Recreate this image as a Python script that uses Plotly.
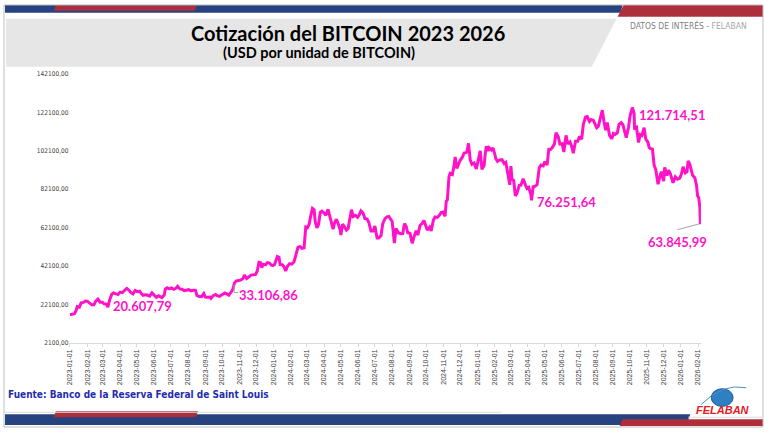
import plotly.graph_objects as go

# Bitcoin price (USD)
dates_2023 = [
    "2023-01-01", "2023-01-05", "2023-01-09", "2023-01-12", "2023-01-14", "2023-01-18", "2023-01-21",
    "2023-01-25", "2023-01-29", "2023-02-01", "2023-02-05", "2023-02-09", "2023-02-13", "2023-02-16",
    "2023-02-20", "2023-02-24", "2023-02-28", "2023-03-03", "2023-03-07", "2023-03-10", "2023-03-13",
    "2023-03-17", "2023-03-20", "2023-03-24", "2023-03-28", "2023-04-01", "2023-04-05", "2023-04-10",
    "2023-04-13", "2023-04-17", "2023-04-20", "2023-04-24", "2023-04-28", "2023-05-02", "2023-05-06",
    "2023-05-09", "2023-05-12", "2023-05-16", "2023-05-20", "2023-05-24", "2023-05-28", "2023-06-01",
    "2023-06-05", "2023-06-09", "2023-06-12", "2023-06-15", "2023-06-19", "2023-06-21", "2023-06-24",
    "2023-06-28", "2023-07-02", "2023-07-06", "2023-07-10", "2023-07-13", "2023-07-17", "2023-07-21",
    "2023-07-25", "2023-07-29", "2023-08-02", "2023-08-06", "2023-08-10", "2023-08-14", "2023-08-17",
    "2023-08-21", "2023-08-25", "2023-08-29", "2023-09-01", "2023-09-05", "2023-09-09", "2023-09-11",
    "2023-09-15", "2023-09-19", "2023-09-22", "2023-09-26", "2023-09-30", "2023-10-02", "2023-10-06",
    "2023-10-10", "2023-10-13", "2023-10-17", "2023-10-20", "2023-10-23", "2023-10-26", "2023-10-30",
    "2023-11-03", "2023-11-07", "2023-11-10", "2023-11-14", "2023-11-18", "2023-11-22", "2023-11-26",
    "2023-11-30", "2023-12-03", "2023-12-06", "2023-12-09", "2023-12-11", "2023-12-14", "2023-12-18",
    "2023-12-21", "2023-12-25", "2023-12-28", "2023-12-31",
]
btc_2023 = [
    16600, 16850, 17200, 18850, 20900, 20700, 22800, 23050, 23750, 23700, 22950, 21800, 21800, 23600,
    24800, 23200, 23150, 22350, 22200, 20608, 24200, 27400, 28000, 27500, 27150, 28450, 28150, 29650,
    30400, 29450, 28250, 27500, 29300, 28650, 28900, 27650, 26800, 27050, 26900, 26350, 28050, 26850,
    25750, 26500, 25900, 25600, 26900, 30000, 30700, 30100, 30600, 29900, 30400, 31450, 30100, 29900,
    29200, 29300, 29700, 29050, 29430, 29400, 26600, 26100, 26050, 27700, 25850, 25750, 25900, 25150,
    26600, 27200, 26550, 26200, 26950, 27500, 27950, 27400, 26850, 28400, 29700, 33107, 34150, 34500,
    34700, 35400, 37300, 35550, 36550, 37300, 37450, 37700, 39450, 44000, 43750, 41250, 43000, 42650,
    43850, 43600, 42600, 42250,
]

dates_2024 = [
    "2024-01-03", "2024-01-08", "2024-01-11", "2024-01-13", "2024-01-17", "2024-01-20", "2024-01-23",
    "2024-01-26", "2024-01-30", "2024-02-03", "2024-02-07", "2024-02-10", "2024-02-14", "2024-02-18",
    "2024-02-21", "2024-02-25", "2024-02-28", "2024-03-02", "2024-03-05", "2024-03-08", "2024-03-11",
    "2024-03-14", "2024-03-16", "2024-03-19", "2024-03-22", "2024-03-25", "2024-03-28", "2024-04-01",
    "2024-04-04", "2024-04-08", "2024-04-12", "2024-04-14", "2024-04-17", "2024-04-20", "2024-04-23",
    "2024-04-27", "2024-04-30", "2024-05-01", "2024-05-04", "2024-05-08", "2024-05-11", "2024-05-14",
    "2024-05-17", "2024-05-20", "2024-05-23", "2024-05-27", "2024-05-31", "2024-06-03", "2024-06-06",
    "2024-06-10", "2024-06-13", "2024-06-17", "2024-06-20", "2024-06-24", "2024-06-28", "2024-07-01",
    "2024-07-05", "2024-07-08", "2024-07-12", "2024-07-15", "2024-07-19", "2024-07-22", "2024-07-26",
    "2024-07-29", "2024-08-01", "2024-08-05", "2024-08-08", "2024-08-12", "2024-08-16", "2024-08-20",
    "2024-08-23", "2024-08-26", "2024-08-29", "2024-09-02", "2024-09-06", "2024-09-09", "2024-09-13",
    "2024-09-16", "2024-09-20", "2024-09-24", "2024-09-27", "2024-09-30", "2024-10-03", "2024-10-07",
    "2024-10-10", "2024-10-14", "2024-10-17", "2024-10-21", "2024-10-24", "2024-10-28", "2024-10-31",
    "2024-11-04", "2024-11-06", "2024-11-08", "2024-11-11", "2024-11-13", "2024-11-17", "2024-11-20",
    "2024-11-22", "2024-11-25", "2024-11-28", "2024-12-01", "2024-12-05", "2024-12-08", "2024-12-11",
    "2024-12-13", "2024-12-16", "2024-12-19", "2024-12-22", "2024-12-26", "2024-12-30",
]
btc_2024 = [
    42800, 47000, 46600, 42800, 42700, 41600, 39500, 41800, 43300, 43000, 44300, 47100, 51800, 52100,
    51300, 51600, 62400, 62000, 63800, 68300, 72100, 71400, 65300, 61900, 63800, 70000, 70700, 69700,
    68500, 71600, 67200, 64900, 61300, 64900, 66400, 63400, 60600, 58200, 63900, 62200, 60800, 61600,
    67000, 71400, 67900, 68500, 67500, 68800, 70800, 69500, 66800, 66500, 64900, 60300, 60300, 62900,
    56700, 56700, 57900, 64000, 66700, 67600, 67900, 66800, 65300, 54000, 61700, 59400, 58900, 59000,
    64100, 62900, 59400, 59100, 53900, 57000, 60500, 58200, 63200, 64300, 65800, 63300, 60800, 62300,
    60300, 66000, 67600, 67400, 68200, 69900, 70200, 68000, 75800, 76500, 88700, 90400, 89800, 94300,
    98900, 93000, 95600, 97200, 98800, 101000, 101200, 101400, 106000, 97500, 95100, 95800, 92700,
]

dates_2025 = [
    "2025-01-02", "2025-01-06", "2025-01-09", "2025-01-13", "2025-01-15", "2025-01-17", "2025-01-20",
    "2025-01-22", "2025-01-26", "2025-01-29", "2025-02-01", "2025-02-03", "2025-02-06", "2025-02-10",
    "2025-02-14", "2025-02-18", "2025-02-21", "2025-02-25", "2025-02-28", "2025-03-02", "2025-03-04",
    "2025-03-07", "2025-03-10", "2025-03-13", "2025-03-17", "2025-03-20", "2025-03-24", "2025-03-28",
    "2025-03-31", "2025-04-03", "2025-04-07", "2025-04-08", "2025-04-11", "2025-04-15", "2025-04-18",
    "2025-04-22", "2025-04-25", "2025-04-29", "2025-05-02", "2025-05-06", "2025-05-09", "2025-05-12",
    "2025-05-15", "2025-05-19", "2025-05-22", "2025-05-26", "2025-05-29", "2025-06-02", "2025-06-05",
    "2025-06-09", "2025-06-12", "2025-06-16", "2025-06-19", "2025-06-22", "2025-06-26", "2025-06-30",
    "2025-07-03", "2025-07-07", "2025-07-10", "2025-07-14", "2025-07-17", "2025-07-21", "2025-07-24",
    "2025-07-28", "2025-07-31", "2025-08-03", "2025-08-06", "2025-08-10", "2025-08-13", "2025-08-16",
    "2025-08-19", "2025-08-22", "2025-08-26", "2025-08-30", "2025-09-02", "2025-09-05", "2025-09-09",
    "2025-09-12", "2025-09-16", "2025-09-19", "2025-09-22", "2025-09-25", "2025-09-29", "2025-10-02",
    "2025-10-06", "2025-10-09", "2025-10-10", "2025-10-13", "2025-10-17", "2025-10-20", "2025-10-23",
    "2025-10-27", "2025-10-30", "2025-11-03", "2025-11-05", "2025-11-07", "2025-11-11", "2025-11-14",
    "2025-11-17", "2025-11-20", "2025-11-21", "2025-11-24", "2025-11-27", "2025-12-01", "2025-12-03",
    "2025-12-07", "2025-12-10", "2025-12-13", "2025-12-16", "2025-12-18", "2025-12-22", "2025-12-26",
    "2025-12-30",
]
btc_2025 = [
    96900, 102100, 92500, 94500, 100500, 104500, 102000, 103700, 102600, 103700, 100600, 98000, 96600,
    97400, 97500, 95500, 96100, 88700, 84400, 94200, 87200, 86700, 78600, 80000, 84100, 84200, 87500,
    84400, 82500, 83100, 79200, 76252, 83400, 83700, 84500, 93400, 94700, 94300, 96500, 94700, 102900,
    102800, 103700, 105600, 111600, 109400, 105600, 105800, 101500, 110200, 105700, 106800, 104600,
    100900, 107100, 107100, 109600, 108200, 116000, 119800, 120000, 117400, 118400, 118000, 115800,
    114200, 115000, 119300, 123300, 117400, 112900, 116900, 110100, 108400, 111200, 110700, 111500,
    115900, 116800, 115700, 112700, 109000, 114300, 120600, 124700, 121715, 113200, 115300, 106500,
    110600, 110100, 114200, 108300, 106500, 103900, 103400, 103000, 94600, 92200, 86600, 84700, 88300,
    91300, 86300, 93500, 89300, 92000, 90300, 87800, 85500, 88600, 87300, 87900,
]

dates_2026 = [
    "2026-01-02", "2026-01-05", "2026-01-09", "2026-01-12", "2026-01-14", "2026-01-17", "2026-01-20",
    "2026-01-22", "2026-01-26", "2026-01-29", "2026-01-31", "2026-02-02", "2026-02-04", "2026-02-05",
]
btc_2026 = [
    90000, 93800, 90600, 91200, 96900, 95100, 91000, 89400, 88100, 84200, 78600, 77800, 73000, 63846,
]

dates = dates_2023 + dates_2024 + dates_2025 + dates_2026
btc = btc_2023 + btc_2024 + btc_2025 + btc_2026

y_ticks = [2100, 22100, 42100, 62100, 82100, 102100, 122100, 142100]
y_labels = ["2100,00", "22100,00", "42100,00", "62100,00", "82100,00", "102100,00", "122100,00", "142100,00"]

x_ticks = [f"{y}-{m:02d}-01" for y in (2023, 2024, 2025) for m in range(1, 13)] + ["2026-01-01", "2026-02-01"]

value_labels = ["20.607,79", "33.106,86", "76.251,64", "121.714,51", "63.845,99"]

W, H = 764, 432
PINK = "#FF12C8"
NAVY = "#26427F"
RED = "#AE2F3C"
FONT = "Lato, 'Open Sans', sans-serif"
NARROW = "'Liberation Sans Narrow', 'DejaVu Sans Condensed', sans-serif"


def px(x):
    return x / W


def py(y):
    return 1 - y / H


def poly(points, color):
    path = "M " + " L ".join(f"{px(x):.5f},{py(y):.5f}" for x, y in points) + " Z"
    return dict(type="path", xref="paper", yref="paper", path=path,
                fillcolor=color, line=dict(width=0), layer="below")


def seg(x0, y0, x1, y1, color, width=1):
    return dict(type="line", xref="paper", yref="paper", x0=px(x0), y0=py(y0), x1=px(x1), y1=py(y1),
                line=dict(color=color, width=width))


def note(text, x, y, font, anchor="center"):
    return dict(text=text, x=px(x), y=py(y), xref="paper", yref="paper", showarrow=False,
                xanchor=anchor, yanchor="middle", font=font)


fig = go.Figure()
fig.add_trace(go.Scatter(x=dates, y=btc, mode="lines", line=dict(color=PINK, width=3),
                         hoverinfo="x+y", showlegend=False))

shapes = [
    # frame
    dict(type="rect", xref="paper", yref="paper", x0=px(1), y0=py(431), x1=px(763), y1=py(1),
         line=dict(color="#BFBFBF", width=1), fillcolor="rgba(0,0,0,0)"),
    # header
    poly([(2, 1), (622, 1), (620, 9), (2, 9)], NAVY),
    poly([(53, 1.5), (195, 1.5), (192, 7), (51, 7)], RED),
    poly([(623, 1), (763, 1), (763, 13), (617, 13)], RED),
    poly([(3, 15), (616, 15), (591, 64), (3, 64)], "#E7E6E6"),
    # footer
    seg(2, 416, 500, 416, "#D9D9D9"),
    seg(688, 421, 762, 421, "#D9D9D9"),
    poly([(2, 418), (690, 418), (686, 429), (2, 429)], NAVY),
    poly([(53, 415), (196, 415), (193, 421), (51, 421)], RED),
    poly([(622, 423), (763, 423), (763, 430), (619, 430)], RED),
    # logo globe
    dict(type="circle", xref="paper", yref="paper", x0=px(711), y0=py(410), x1=px(733), y1=py(392),
         fillcolor="#2F7FC1", line=dict(color="#1B5E9E", width=1)),
    dict(type="path", xref="paper", yref="paper",
         path=f"M {px(701):.5f},{py(408):.5f} Q {px(722):.5f},{py(386):.5f} {px(746):.5f},{py(391):.5f}",
         line=dict(color="#4A90C8", width=1)),
    # leader lines
    seg(232, 286, 232, 294, "#A6A6A6"),
    seg(232, 294, 236, 294, "#A6A6A6"),
    seg(677, 230, 699, 224, "#A6A6A6"),
]

label_pos = [(140.5, 308), (267, 296), (565.5, 202), (671.5, 113), (677, 242)]
annotations = [
    note(t, x, y, dict(family=FONT, size=13, color=PINK, weight="bold"))
    for t, (x, y) in zip(value_labels, label_pos)
]
annotations += [
    note("Cotización del BITCOIN 2023 2026", 346, 30, dict(family=FONT, size=20, color="#000000", weight="bold")),
    note("(USD por unidad de BITCOIN)", 317, 49, dict(family=FONT, size=14.5, color="#000000", weight="bold")),
    note("DATOS DE INTERÉS - <span style='color:#A6A6A6'>FELABAN</span>", 749, 22,
         dict(family=NARROW, size=8.5, color="#7F7F7F"), anchor="right"),
    note("Fuente: Banco de la Reserva Federal de Saint Louis", 3, 398,
         dict(family=NARROW, size=10, color="#1F2DB0", weight="bold"), anchor="left"),
    note("<i><b>FELABAN</b></i>", 723, 414, dict(family="'Liberation Sans', sans-serif", size=11, color="#E31B23")),
]

fig.update_layout(
    width=W, height=H,
    margin=dict(l=0, r=0, t=0, b=0),
    paper_bgcolor="white", plot_bgcolor="white",
    font=dict(family=FONT),
    shapes=shapes,
    annotations=annotations,
    xaxis=dict(
        domain=[px(66.7), px(700.7)],
        range=["2022-12-31", "2026-02-06"],
        type="date",
        tickmode="array", tickvals=x_ticks, ticktext=x_ticks,
        tickangle=-90, tickfont=dict(family="'Liberation Sans', sans-serif", size=7, color="#404040"),
        showgrid=False, zeroline=False,
        showline=True, linecolor="#D9D9D9", linewidth=1,
        ticks="outside", ticklen=3, tickcolor="#D9D9D9",
    ),
    yaxis=dict(
        domain=[py(345), py(71.5)],
        range=[2100, 142100],
        tickmode="array", tickvals=y_ticks, ticktext=y_labels,
        tickfont=dict(family=NARROW, size=6.5, color="#404040"),
        showgrid=False, zeroline=False, showline=False,
    ),
)

# page body has a default 8px margin; drop it so the figure sits at the window corner
fig.write_html("out.html", config={"displayModeBar": False},
               post_script="document.body.style.margin='0';")
